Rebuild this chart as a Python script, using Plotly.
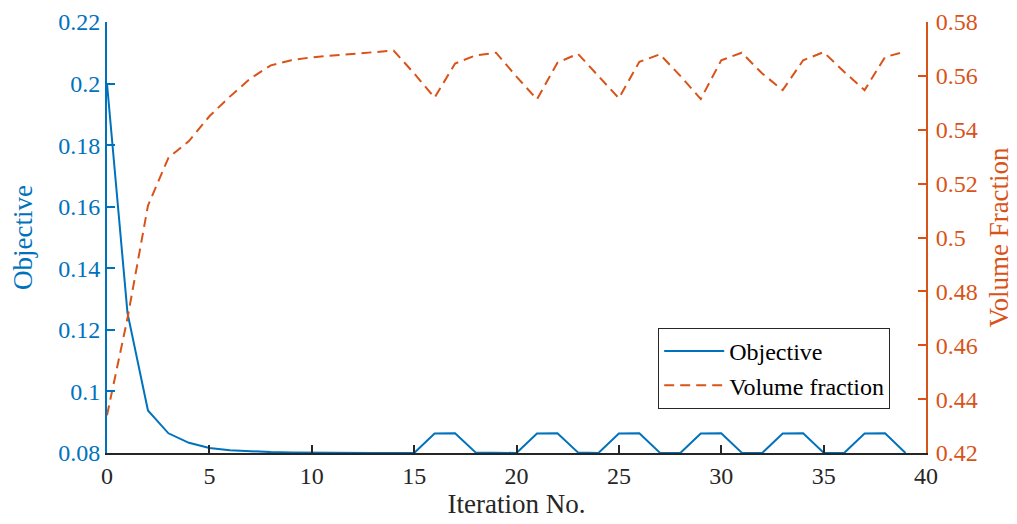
import plotly.graph_objects as go

iterations = list(range(40))
objective = [0.2, 0.1255, 0.0938, 0.0864, 0.0833, 0.0816, 0.0809, 0.0805, 0.0803, 0.0802,
             0.0801, 0.08005, 0.0800, 0.0800, 0.0800, 0.0800, 0.0863, 0.0864, 0.0802, 0.0801,
             0.0800, 0.0863, 0.0864, 0.0802, 0.0800, 0.0863, 0.0864, 0.0801, 0.0800, 0.0863,
             0.0864, 0.0801, 0.0800, 0.0863, 0.0864, 0.0801, 0.0800, 0.0863, 0.0864, 0.0800]
volume = [0.434, 0.470, 0.5118, 0.5296, 0.5358, 0.545, 0.5523, 0.559, 0.5639, 0.5658,
          0.5669, 0.5675, 0.5681, 0.5686, 0.5694, 0.5609, 0.5519, 0.5646, 0.5676, 0.5686,
          0.5597, 0.5513, 0.5649, 0.5682, 0.5600, 0.5517, 0.5652, 0.5680, 0.5600, 0.5514,
          0.5658, 0.5686, 0.5609, 0.5547, 0.5658, 0.5688, 0.5615, 0.5547, 0.5670, 0.5690]

x_ticks = [0, 5, 10, 15, 20, 25, 30, 35, 40]
left_ticks = [0.08, 0.10, 0.12, 0.14, 0.16, 0.18, 0.20, 0.22]
left_labels = ["0.08", "0.1", "0.12", "0.14", "0.16", "0.18", "0.2", "0.22"]
right_ticks = [0.42, 0.44, 0.46, 0.48, 0.50, 0.52, 0.54, 0.56, 0.58]
right_labels = ["0.42", "0.44", "0.46", "0.48", "0.5", "0.52", "0.54", "0.56", "0.58"]

BLUE = "#0072BD"
ORANGE = "#D95319"
DARK = "#262626"
FONT = "Liberation Serif"
TICK_SIZE = 24
TITLE_SIZE = 27
EPS = 1e-7

fig = go.Figure()
fig.add_trace(go.Scatter(x=iterations, y=objective, mode="lines", name="Objective",
                         line=dict(color=BLUE, width=2), yaxis="y"))
fig.add_trace(go.Scatter(x=iterations, y=volume, mode="lines", name="Volume fraction",
                         line=dict(color=ORANGE, width=2, dash="10px,6px"), yaxis="y2"))

fig.update_layout(
    width=1017, height=524,
    margin=dict(l=99, r=99, t=14, b=79, autoexpand=False),
    paper_bgcolor="white", plot_bgcolor="white",
    font=dict(family=FONT, size=TICK_SIZE, color=DARK),
    showlegend=True,
    legend=dict(x=0.673, y=0.29, xanchor="left", yanchor="top",
                bgcolor="white", bordercolor=DARK, borderwidth=1,
                font=dict(family=FONT, size=TICK_SIZE, color="black"),
                tracegroupgap=0, itemwidth=60),
    xaxis=dict(range=[0, 40], tickvals=x_ticks, showgrid=False, zeroline=False,
               automargin=False, ticklabeloverflow="allow",
               showline=True, linecolor=DARK, linewidth=1.5,
               ticks="inside", ticklen=8, tickcolor=DARK, tickwidth=1.5,
               tickfont=dict(family=FONT, size=TICK_SIZE, color=DARK),
               title=dict(text="Iteration No.", font=dict(family=FONT, size=TITLE_SIZE, color=DARK), standoff=5)),
    yaxis=dict(range=[0.08 - EPS, 0.22 + EPS], tickvals=left_ticks, ticktext=left_labels,
               showgrid=False, zeroline=False, automargin=False, ticklabeloverflow="allow",
               showline=True, linecolor=BLUE, linewidth=2,
               ticks="inside", ticklen=8, tickcolor=BLUE, tickwidth=1.5,
               tickfont=dict(family=FONT, size=TICK_SIZE, color=BLUE),
               title=dict(text="Objective", font=dict(family=FONT, size=TITLE_SIZE, color=BLUE), standoff=18)),
    yaxis2=dict(range=[0.42 - EPS, 0.58 + EPS], tickvals=right_ticks, ticktext=right_labels,
                overlaying="y", side="right", showgrid=False, zeroline=False, automargin=False,
                ticklabeloverflow="allow",
                showline=True, linecolor=ORANGE, linewidth=2,
                ticks="inside", ticklen=8, tickcolor=ORANGE, tickwidth=1.5,
                ticklabelstandoff=3,
                tickfont=dict(family=FONT, size=TICK_SIZE, color=ORANGE),
                title=dict(text="Volume Fraction", font=dict(family=FONT, size=TITLE_SIZE, color=ORANGE), standoff=12)),
)

fig.write_html("out.html")
